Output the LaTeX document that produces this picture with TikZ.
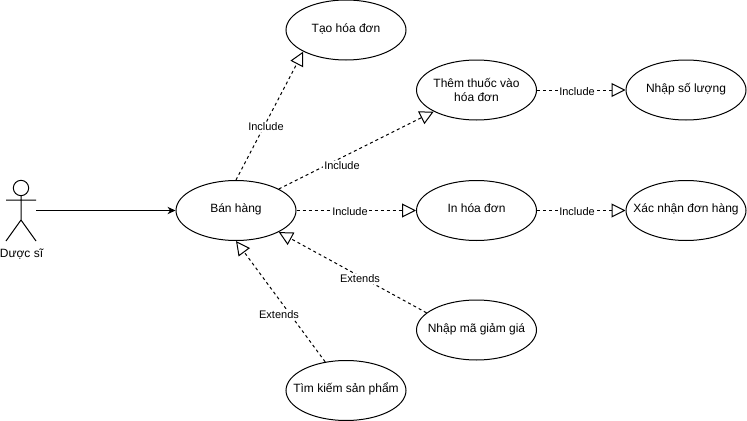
\documentclass[tikz,border=0pt]{standalone}
\usepackage{fontspec}
\setmainfont{Liberation Sans}
\usetikzlibrary{arrows.meta,shapes.geometric}
\definecolor{ink}{HTML}{000000}
\tikzset{
 x=0.75pt,y=-0.75pt,
 every node/.style={font=\fontsize{9pt}{10.5pt}\selectfont,text=ink},
 usecase/.style={draw=ink,fill=white,line width=0.75pt,ellipse,minimum width=90pt,minimum height=45pt,inner xsep=-25pt,inner ysep=-8pt,align=center},
 oneline/.style={usecase,text height=5pt,text depth=1.8pt},
 rel/.style={draw=ink,line width=0.75pt,dash pattern=on 2.25pt off 2.25pt,-{Triangle[open,fill=white,length=10.5pt,width=10.5pt]}},
 lab/.style={fill=white,inner sep=1pt,font=\fontsize{8.25pt}{10pt}\selectfont},
 actor/.style={draw=ink,line width=0.75pt}
}
\begin{document}
\begin{tikzpicture}
\useasboundingbox (0,0) rectangle (747,421);
\node[oneline] (tao) at (346,30) {Tạo hóa đơn};
\node[usecase] (them) at (476.5,90) {Thêm thuốc vào\\hóa đơn};
\node[oneline] (nhap) at (686,90) {Nhập số lượng};
\node[oneline] (ban) at (236,210.5) {Bán hàng};
\node[oneline] (in) at (476.5,210.5) {In hóa đơn};
\node[oneline] (xac) at (686,210.5) {Xác nhận đơn hàng};
\node[oneline] (ma) at (476.5,330) {Nhập mã giảm giá};
\node[oneline] (tim) at (346,390.5) {Tìm kiếm sản phẩm};
\coordinate (head) at (21,188);
\coordinate (hip) at (21,220);
\coordinate (armL) at (6,200);
\coordinate (armR) at (36,200);
\coordinate (legL) at (6,241);
\coordinate (legR) at (36,241);
\node[circle,draw=ink,fill=white,line width=0.75pt,minimum size=11.5pt,inner sep=0pt] (hd) at (head) {};
\draw[actor] (hd.south) -- (hip) (armL) -- (armR) (hip) -- (legL) (hip) -- (legR);
\node (actorlabel) at (21.5,254) {Dược sĩ};
\coordinate (actorout) at (36,210.5);
\draw[draw=ink,line width=0.75pt,-{Stealth[length=6pt,width=5.5pt]}] (actorout) -- (ban.west);
\draw[rel] (ban.north) -- (tao.south west);
\draw[rel] (ban.north east) -- (them.south west);
\draw[rel] (ban.east) -- (in.west);
\draw[rel] (them.east) -- (nhap.west);
\draw[rel] (in.east) -- (xac.west);
\draw[rel] (ma.161) -- (ban.south east);
\draw[rel] (tim.126) -- (ban.south);
\node[lab] (l1) at (266,127) {Include};
\node[lab] (l2) at (342,166) {Include};
\node[lab] (l3) at (350,212) {Include};
\node[lab] (l4) at (577,92) {Include};
\node[lab] (l5) at (577,212) {Include};
\node[lab] (l6) at (360,279) {Extends};
\node[lab] (l7) at (279,315) {Extends};
\end{tikzpicture}
\end{document}
